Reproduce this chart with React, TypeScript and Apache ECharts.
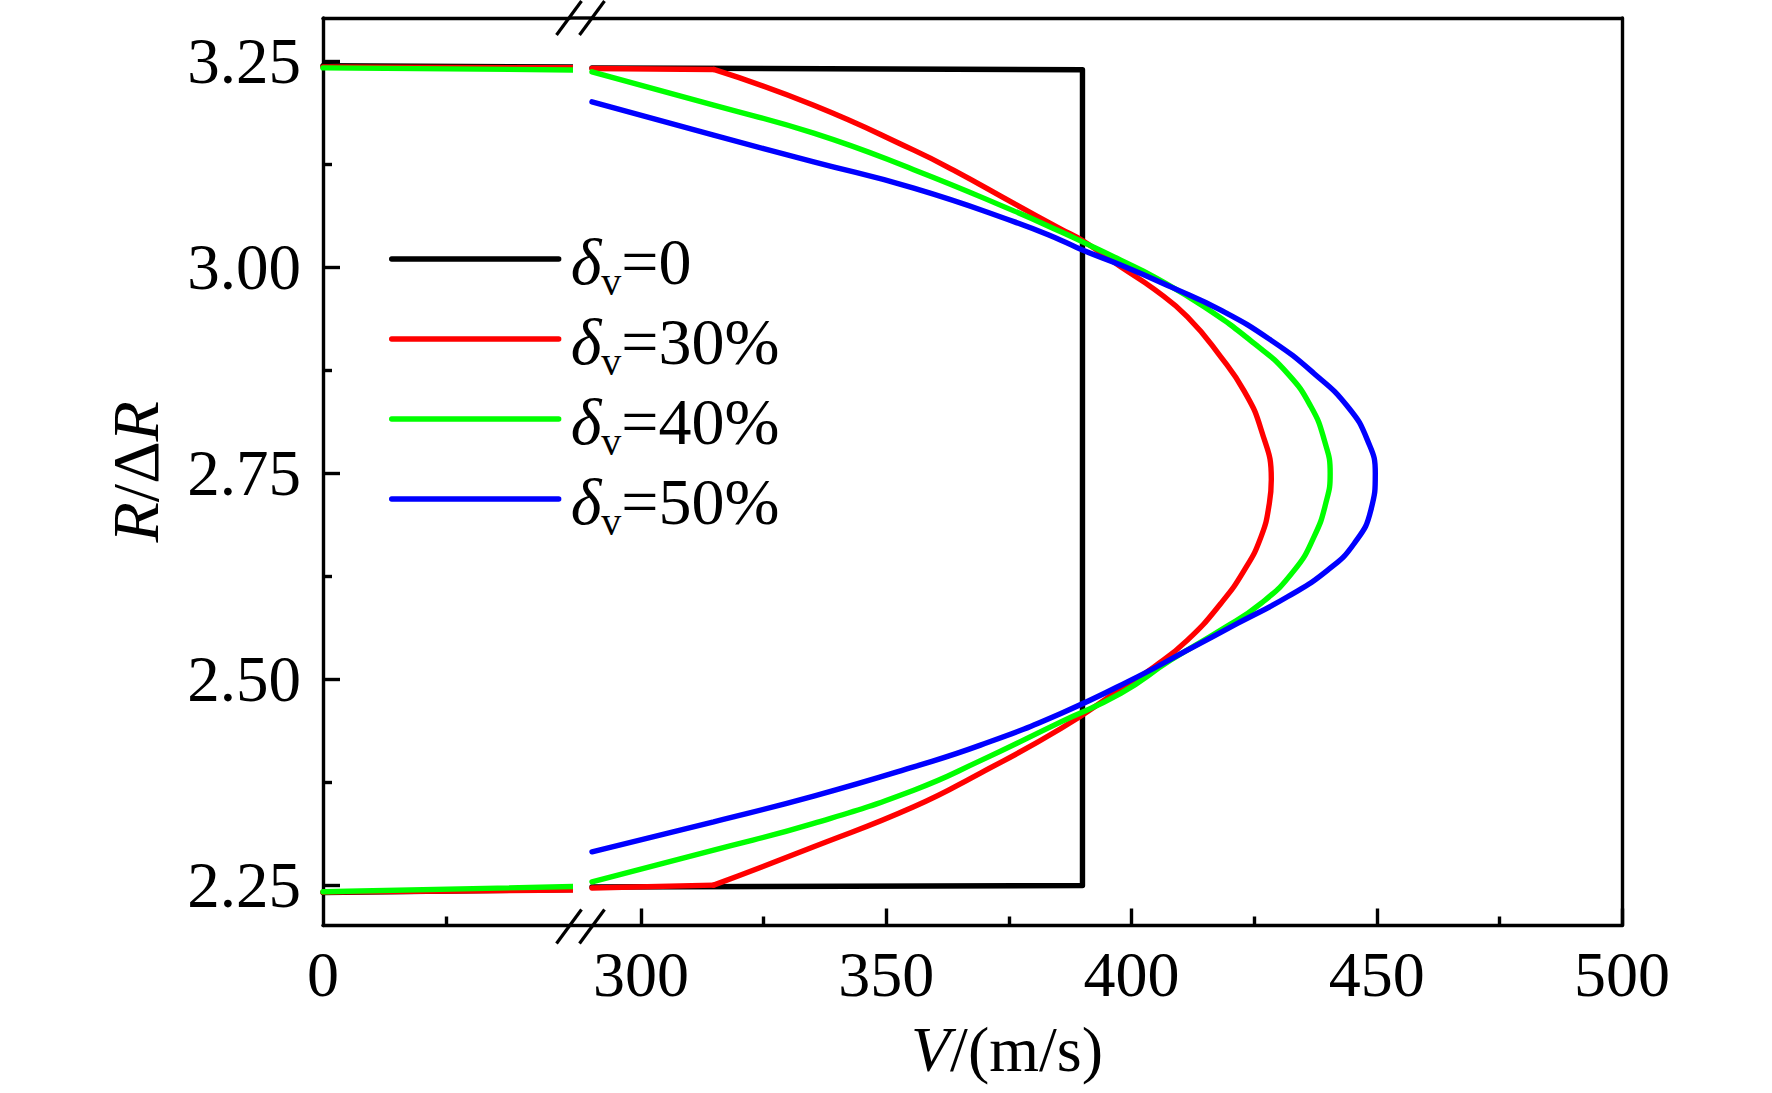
import React, { useEffect, useRef } from "react";
import * as echarts from "echarts";

// ---------- data (V in m/s, R/ΔR) ----------
const seriesNames = ["δv=0", "δv=30%", "δv=40%", "δv=50%"];
const legendValues = ["0", "30%", "40%", "50%"];
const seriesColors = ["#000000", "#ff0000", "#00ff00", "#0000ff"];

// values at V = 0 (top, bottom) — drawn in the left (broken) part of the axis
const blackOuter: number[][] = [[0, 3.244], [0, 2.241]];
const redOuter: number[][] = [[0, 3.2425], [0, 2.2415]];
const greenOuter: number[][] = [[0, 3.2415], [0, 2.2419]];
const blueOuter: number[][] = [];

// values from V = 290 m/s onward
const blackData: number[][] = [
  [290, 3.2415], [390, 3.2392], [390, 2.2495], [290, 2.2478],
];

const redData: number[][] = [
  [290, 3.2408], [314.8, 3.2396], [335.2, 3.1962], [355.6, 3.1417], [363.7, 3.1174],
  [376.0, 3.077], [385.6, 3.046], [390.0, 3.032], [397.8, 3.0001], [404.6, 2.973],
  [411.4, 2.9394], [418.2, 2.8909], [423.0, 2.849], [426.4, 2.803], [428.5, 2.742],
  [428.1, 2.7131], [426.4, 2.6725], [423.0, 2.6321], [418.2, 2.5917], [411.4, 2.5472],
  [404.6, 2.5148], [397.8, 2.488], [385.6, 2.44], [369.2, 2.386], [355.6, 2.345],
  [335.2, 2.2965], [314.8, 2.25], [290, 2.2465],
];

const greenData: number[][] = [
  [290, 3.2367], [314.8, 3.1962], [335.2, 3.1623], [355.6, 3.118], [376.0, 3.068],
  [385.6, 3.0426], [390.0, 3.0304], [397.8, 3.0082], [404.6, 2.988], [414.8, 2.9516],
  [425.0, 2.9072], [431.8, 2.8708], [436.6, 2.8303], [439.3, 2.7899], [440.5, 2.7495],
  [439.6, 2.7131], [437.2, 2.6725], [433.2, 2.6321], [426.4, 2.5917], [418.2, 2.5594],
  [408.0, 2.523], [397.8, 2.4826], [385.6, 2.4481], [369.2, 2.401], [355.6, 2.3652],
  [335.2, 2.3249], [314.8, 2.2925], [290, 2.254],
];

const blueData: number[][] = [
  [290, 3.2003], [314.8, 3.1599], [335.2, 3.1275], [355.6, 3.0956], [376.0, 3.055],
  [385.6, 3.0325], [390.0, 3.0204], [397.8, 3.0022], [408.0, 2.9758], [418.2, 2.9476],
  [428.4, 2.9112], [437.2, 2.8708], [444.1, 2.8303], [448.1, 2.7899], [449.7, 2.7495],
  [448.8, 2.7049], [445.4, 2.6645], [440.0, 2.6321], [431.8, 2.5998], [421.6, 2.5675],
  [411.4, 2.5351], [401.2, 2.5027], [385.6, 2.4583], [369.2, 2.4198], [355.6, 2.3935],
  [335.2, 2.358], [314.8, 2.3268], [290, 2.2904],
];

const allOuter = [blackOuter, redOuter, greenOuter, blueOuter];
const allData = [blackData, redData, greenData, blueData];
// indices of sharp corners in each curve (curve is smoothed only between corners)
const cornerIndices: number[][] = [[], [1, redData.length - 2], [], []];
const curveSmooth = [0, 0.5, 0.5, 0.5];

// axis ranges & ticks
const yRange = [2.201, 3.302];
const yTicks = [2.25, 2.5, 2.75, 3.0, 3.25];
const yMinorTicks = [2.375, 2.625, 2.875, 3.125];
const xLeftRange = [0, 150];
const xLeftTicks = [0];
const xLeftMinorTicks = [75];
const xRightRange = [290, 500];
const xRightTicks = [300, 350, 400, 450, 500];
const xRightMinorTicks = [325, 375, 425, 475];

// ---------- layout ----------
const W = 1772;
const H = 1093;
const FONT = "Liberation Serif";
const plotTop = 18;
const plotBottom = 925.5;
const plotLeft = 323;
const breakLeft = 569;
const breakRight = 592;
const plotRight = 1622;
const AXIS_W = 3.4;
const LINE_W = 5.4;

const axisLineStyle = { color: "#000", width: AXIS_W };

function splitAt(data: number[][], idx: number[]): number[][][] {
  const cuts = [0, ...idx, data.length - 1];
  const pieces: number[][][] = [];
  for (let k = 0; k < cuts.length - 1; k++) {
    if (cuts[k + 1] > cuts[k]) pieces.push(data.slice(cuts[k], cuts[k + 1] + 1));
  }
  return pieces;
}

export default function App() {
  const ref = useRef<HTMLDivElement>(null);

  useEffect(() => {
    if (!ref.current) return;
    const chart = echarts.init(ref.current, undefined, { renderer: "svg", width: W, height: H });

    const labelStyle = { fontFamily: FONT, fontSize: 64, color: "#000" };
    const tickLine = { color: "#000", width: AXIS_W };

    const baseX = (grid: number, range: number[], position: string) => ({
      type: "value",
      gridIndex: grid,
      min: range[0],
      max: range[1],
      position,
      splitLine: { show: false },
      axisLine: { show: false, lineStyle: axisLineStyle },
      axisTick: { show: false },
      axisLabel: { show: false },
    });

    const xAxis: any[] = [
      {
        ...baseX(0, xLeftRange, "bottom"),
        axisLine: { show: true, onZero: false, lineStyle: axisLineStyle },
        axisLabel: { show: true, customValues: xLeftTicks, showMinLabel: true, showMaxLabel: true, margin: 17, ...labelStyle },
      },
      {
        ...baseX(0, xLeftRange, "bottom"),
        axisTick: { show: true, inside: true, length: 9, customValues: xLeftMinorTicks, lineStyle: tickLine },
      },
      { ...baseX(0, xLeftRange, "top"), axisLine: { show: true, onZero: false, lineStyle: axisLineStyle } },
      {
        ...baseX(1, xRightRange, "bottom"),
        axisLine: { show: true, onZero: false, lineStyle: axisLineStyle },
        axisTick: { show: true, inside: true, length: 17, customValues: xRightTicks, lineStyle: tickLine },
        axisLabel: { show: true, customValues: xRightTicks, showMinLabel: true, showMaxLabel: true, margin: 17, ...labelStyle },
        name: "{i|V}/(m/s)",
        nameLocation: "middle",
        nameGap: 92,
        nameTextStyle: {
          fontFamily: FONT,
          fontSize: 64,
          color: "#000",
          padding: [0, 200, 0, 0],
          rich: { i: { fontFamily: FONT, fontSize: 64, fontStyle: "italic", color: "#000" } },
        },
      },
      {
        ...baseX(1, xRightRange, "bottom"),
        axisTick: { show: true, inside: true, length: 9, customValues: xRightMinorTicks, lineStyle: tickLine },
      },
      { ...baseX(1, xRightRange, "top"), axisLine: { show: true, onZero: false, lineStyle: axisLineStyle } },
    ];

    const baseY = (grid: number, position: string) => ({
      type: "value",
      gridIndex: grid,
      min: yRange[0],
      max: yRange[1],
      position,
      splitLine: { show: false },
      axisLine: { show: false, lineStyle: axisLineStyle },
      axisTick: { show: false },
      axisLabel: { show: false },
    });

    const yAxis: any[] = [
      {
        ...baseY(0, "left"),
        axisLine: { show: true, onZero: false, lineStyle: axisLineStyle },
        axisTick: { show: true, inside: true, length: 17, customValues: yTicks, lineStyle: tickLine },
        axisLabel: {
          show: true,
          customValues: yTicks,
          showMinLabel: true,
          showMaxLabel: true,
          margin: 22,
          formatter: (v: number) => v.toFixed(2),
          ...labelStyle,
          fontSize: 65,
        },
        name: "{i|R}/Δ{i|R}",
        nameLocation: "middle",
        nameRotate: 90,
        nameGap: 155,
        nameTextStyle: {
          fontFamily: FONT,
          fontSize: 66,
          color: "#000",
          rich: { i: { fontFamily: FONT, fontSize: 66, fontStyle: "italic", color: "#000" } },
        },
      },
      {
        ...baseY(0, "left"),
        axisTick: { show: true, inside: true, length: 9, customValues: yMinorTicks, lineStyle: tickLine },
      },
      { ...baseY(1, "right"), axisLine: { show: true, onZero: false, lineStyle: axisLineStyle } },
    ];

    const series: any[] = [];
    allData.forEach((d, i) => {
      const common = {
        type: "line",
        name: seriesNames[i],
        showSymbol: false,
        symbol: "none",
        clip: true,
        lineStyle: { color: seriesColors[i], width: LINE_W, cap: "round", join: "round" },
        itemStyle: { color: seriesColors[i] },
        z: 2 + i,
      };
      // left part of the broken axis: from V = 0 to the first/last point at 290
      const outer = allOuter[i];
      if (outer.length === 2) {
        series.push({ ...common, xAxisIndex: 0, yAxisIndex: 0, smooth: false, data: [outer[0], d[0]] });
        series.push({ ...common, xAxisIndex: 0, yAxisIndex: 0, smooth: false, data: [d[d.length - 1], outer[1]] });
      }
      // right part
      splitAt(d, cornerIndices[i]).forEach((piece) => {
        const flat = piece.length <= 2;
        series.push({
          ...common,
          xAxisIndex: 3,
          yAxisIndex: 2,
          smooth: flat || !curveSmooth[i] ? false : curveSmooth[i],
          data: piece,
        });
      });
    });

    const slash = (cx: number, cy: number) => ({
      type: "line",
      shape: { x1: cx - 12.5, y1: cy + 17, x2: cx + 12.5, y2: cy - 17 },
      style: { stroke: "#000", lineWidth: 3.2 },
      z: 10,
    });

    const option: any = {
      animation: false,
      backgroundColor: "#ffffff",
      textStyle: { fontFamily: FONT },
      grid: [
        { left: plotLeft, top: plotTop, width: breakLeft - plotLeft, height: plotBottom - plotTop, containLabel: false },
        { left: breakRight, top: plotTop, width: plotRight - breakRight, height: plotBottom - plotTop, containLabel: false },
      ],
      xAxis,
      yAxis,
      legend: {
        orient: "vertical",
        left: 389,
        top: 226,
        padding: 0,
        itemWidth: 167,
        itemHeight: 64,
        itemGap: 5,
        selectedMode: false,
        data: seriesNames,
        itemStyle: { opacity: 0 },
        lineStyle: { width: LINE_W, cap: "round" },
        formatter: (name: string) => `{d|δ}{s|v}{t|=${legendValues[seriesNames.indexOf(name)]}}`,
        textStyle: {
          fontFamily: FONT,
          fontSize: 66,
          color: "#000",
          rich: {
            d: { fontFamily: FONT, fontSize: 66, lineHeight: 66, fontStyle: "italic", color: "#000", verticalAlign: "top", padding: [2, 0, 0, 7] },
            s: { fontFamily: FONT, fontSize: 40, lineHeight: 40, verticalAlign: "top", color: "#000", padding: [35, 0, 0, 0] },
            t: { fontFamily: FONT, fontSize: 66, lineHeight: 66, verticalAlign: "top", color: "#000", padding: [2, 0, 0, 0] },
          },
        },
      },
      graphic: [
        { type: "line", shape: { x1: breakLeft, y1: plotTop, x2: breakRight, y2: plotTop }, style: { stroke: "#000", lineWidth: AXIS_W }, z: 10 },
        { type: "line", shape: { x1: breakLeft, y1: plotBottom, x2: breakRight, y2: plotBottom }, style: { stroke: "#000", lineWidth: AXIS_W }, z: 10 },
        slash(breakLeft, plotTop),
        slash(breakRight, plotTop),
        slash(breakLeft, plotBottom + 1),
        slash(breakRight, plotBottom + 1),
      ],
      series,
    };

    chart.setOption(option);
    return () => {
      chart.dispose();
    };
  }, []);

  return (
    <div
      ref={ref}
      style={{ position: "absolute", left: 0, top: 0, width: W, height: H, background: "#fff" }}
    />
  );
}
